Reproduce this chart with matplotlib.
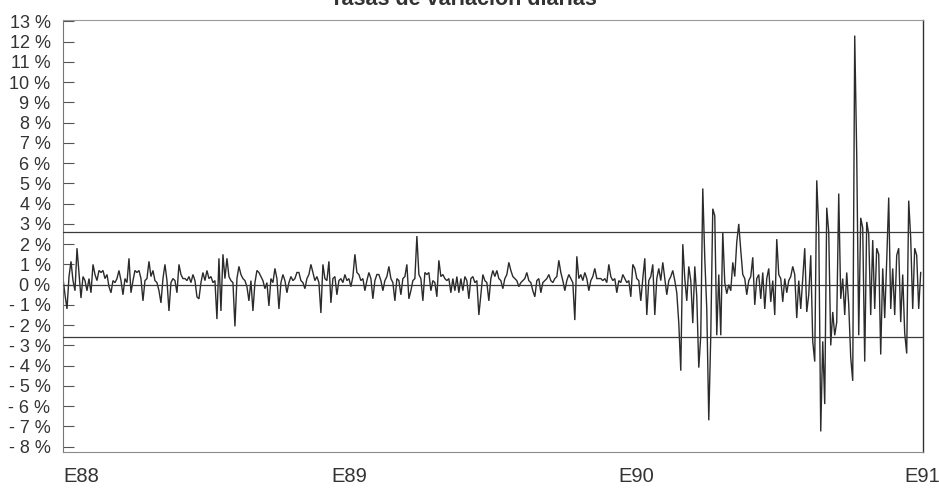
import matplotlib
matplotlib.use("Agg")
import matplotlib.pyplot as plt

# Daily variation rates (%) (approx. every other trading day)
values = [
    0.3, -0.5, -1.2, 0.4, 1.15, 0.2, -0.3, 1.8, 0.6, -0.66,
    0.4, 0.2, -0.3, 0.3, -0.4, 1.0, 0.5, 0.2, 0.7, 0.6,
    0.7, 0.3, 0.5, -0.1, -0.4, 0.2, 0.1, 0.3, 0.7, 0.2,
    -0.5, 0.3, 0.1, 1.3, -0.4, 0.2, 0.7, 0.6, 0.7, 0.3,
    -0.8, 0.2, 0.3, 1.15, 0.4, 0.7, 0.2, 0.1, -0.3, -0.9,
    0.3, 1.0, 0.2, -1.3, 0.1, 0.3, 0.2, -0.4, 1.0, 0.5,
    0.3, 0.3, 0.2, 0.4, 0.1, 0.5, 0.2, -0.6, -0.7, 0.1,
    0.6, 0.2, 0.7, 0.3, 0.4, 0.1, 0.2, -1.7, 1.3, -1.3,
    1.5, 0.3, 1.3, 0.4, 0.2, 0.1, -2.06, 0.3, 0.9, 0.5,
    0.3, 0.2, -0.1, -0.8, 0.2, -1.3, 0.1, 0.7, 0.6, 0.4,
    0.2, -0.2, 0.1, -1.05, 0.3, 0.1, 0.8, 0.3, -1.2, 0.1,
    0.5, 0.2, -0.4, 0.1, 0.4, 0.2, 0.3, 0.6, 0.6, 0.2,
    0.1, -0.2, 0.3, 0.5, 1.0, 0.6, 0.2, 0.4, 0.1, -1.4,
    1.0, 0.3, 0.2, 1.15, -0.9, 0.3, 0.4, -0.5, 0.2, 0.3,
    0.1, 0.5, 0.2, 0.3, -0.1, 0.4, 1.5, 0.6, 0.5, 0.2,
    0.3, -0.3, 0.2, 0.6, 0.3, -0.7, 0.2, 0.5, 0.5, 0.2,
    -0.3, 0.2, 0.4, 0.9, 0.3, 0.1, -0.8, 0.3, 0.2, -0.5,
    0.3, 0.4, 1.0, -0.7, -0.3, 0.2, 0.3, 2.4, 0.5, 0.3,
    -0.8, 0.6, 0.5, 0.6, -0.3, 0.2, 0.1, -0.6, 1.2, 0.4,
    0.5, 0.3, 0.2, 0.3, -0.4, 0.3, -0.3, 0.4, -0.4, 0.3,
    -0.3, 0.4, 0.2, -0.7, 0.3, 0.4, 0.1, 0.2, -1.5, -0.5,
    0.5, 0.2, 0.1, -0.8, 0.3, 0.7, 0.4, 0.7, 0.3, 0.2,
    -0.2, 0.3, 0.5, 1.1, 0.7, 0.4, 0.3, 0.2, -0.1, 0.1,
    0.2, 0.3, 0.6, 0.2, 0.1, -0.3, -0.6, 0.2, 0.3, -0.4,
    0.1, 0.2, 0.3, 0.5, 0.2, 0.1, 0.3, 0.4, 1.2, 0.6,
    0.2, -0.3, 0.2, 0.5, 0.3, 0.1, -1.75, 1.4, 0.3, 0.5,
    0.2, 0.6, 0.3, -0.3, 0.2, 0.4, 0.8, 0.3, 0.3, 0.3,
    0.2, 0.3, 0.1, 1.0, 0.4, 0.2, 0.3, -0.4, 0.2, 0.1,
    0.5, 0.3, 0.1, 0.2, -0.6, 1.0, 0.8, 0.3, 0.2, -0.8,
    0.3, 1.3, -1.5, 0.2, 0.4, 1.0, -1.5, 0.3, 0.8, 0.2,
    1.1, 0.3, -0.5, 0.2, 0.4, 0.7, 0.2, -0.4, -1.9, -4.25,
    2.0, 0.3, -0.8, 0.9, 0.2, -1.9, 0.9, -0.6, -4.1, -2.5,
    4.75, 1.3, -1.2, -6.7, -2.5, 3.75, 3.4, -2.5, 0.5, -2.5,
    2.6, 0.1, -0.45, 0.0, -0.3, 1.1, 0.4, 2.1, 3.0, 1.7,
    0.5, 0.3, -0.5, 0.2, 0.4, 1.35, -1.0, 0.3, 0.5, -0.7,
    0.6, -1.2, 0.3, 0.8, -0.85, 0.2, -1.5, 2.25, 0.5, 0.3,
    -0.85, 0.3, -0.4, 0.2, 0.4, 0.9, 0.5, -1.65, 0.2, -1.2,
    0.3, 1.8, -1.35, -0.5, 1.45, -2.8, -3.8, 5.15, 2.8, -7.25,
    -2.8, -5.9, 3.8, 2.6, -3.0, -1.35, -2.5, -1.85, 4.5, -0.7,
    0.3, -1.5, 0.6, -1.0, -3.6, -4.75, 12.3, 6.4, -2.5, 3.3,
    2.8, -3.8, 3.1, 2.5, -1.5, 2.2, -1.2, 1.8, 1.5, -3.45,
    0.8, -1.65, 1.2, 4.3, -1.2, 0.8, -1.5, 1.45, 1.8, -1.85,
    0.5, -2.4, -3.4, 4.15, 2.3, -1.2, 1.8, 1.45, -1.2, 0.6,
]

year_labels = ["E88", "E89", "E90", "E91"]
ref_levels = [2.58, 0.0, -2.58]
y_ticks = list(range(-8, 14))
title = "Tasas de variación diarias"

plt.rcParams["font.family"] = ["Liberation Sans", "DejaVu Sans"]

W, H = 939, 490
fig = plt.figure(figsize=(W / 100, H / 100), dpi=100)
ax = fig.add_axes([63 / W, (H - 451.7) / H, (922.7 - 63) / W, (451.7 - 20) / H])

n = len(values)
x = list(range(n))
ax.plot(x, values, color="#2b2b2b", lw=1.0, solid_joinstyle="miter")
for lvl in ref_levels:
    ax.axhline(lvl, color="#3a3a3a", lw=0.9, zorder=3)

ax.set_xlim(0, n)
ax.set_ylim(-8.25, 13.07)

ax.set_yticks(y_ticks)
ax.set_yticklabels([f"{v} %" if v >= 0 else f"- {abs(v)} %" for v in y_ticks],
                   fontsize=13, color="#333333")
ax.tick_params(axis="y", direction="in", length=8, width=0.8, color="#555555", pad=9)

xt = [n * k / 3 for k in range(4)]
ax.set_xticks(xt)
ax.set_xticklabels(year_labels, fontsize=14.5, color="#333333")
ax.tick_params(axis="x", length=0, pad=11)
ax.get_xticklabels()[0].set_horizontalalignment("left")

for side, col, lw in [("top", "#9a9a9a", 0.8), ("left", "#777777", 0.8),
                      ("bottom", "#8a8a8a", 0.8), ("right", "#333333", 1.0)]:
    ax.spines[side].set_color(col)
    ax.spines[side].set_linewidth(lw)

fig.text(463 / W, 1 - 5 / H, title, ha="center", va="baseline",
         fontsize=15.5, fontweight="bold", color="#333333")

fig.savefig("out.png", dpi=100)
